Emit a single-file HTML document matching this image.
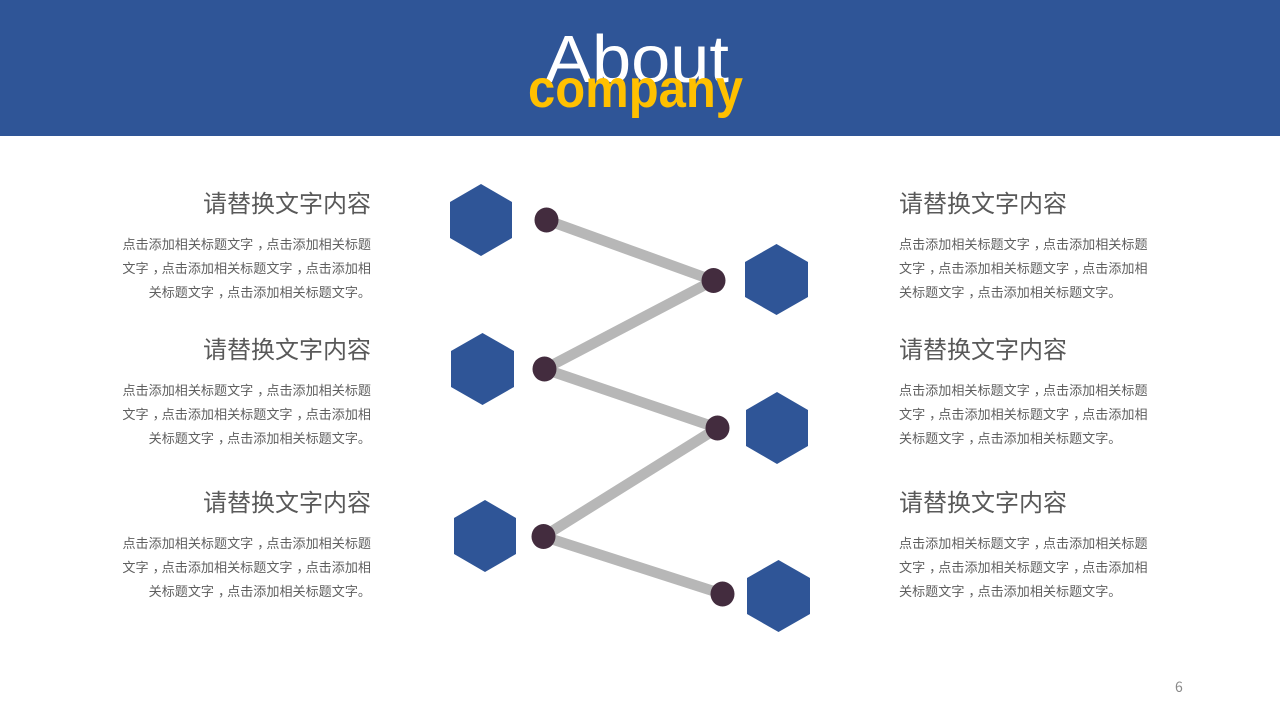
<!DOCTYPE html>
<html lang="zh">
<head>
<meta charset="utf-8">
<title>About company</title>
<style>
html,body{margin:0;padding:0;background:#fff;width:1280px;height:720px;overflow:hidden}
svg{display:block}
.h{font-family:"Liberation Sans","Noto Sans CJK SC",sans-serif;font-size:24px;fill:#595959}
.b{font-family:"Liberation Sans","Noto Sans CJK SC",sans-serif;font-size:13.08px;fill:#5f5f5f}
.e{text-anchor:end}
</style>
</head>
<body>
<svg width="1280" height="720" viewBox="0 0 1280 720" xmlns="http://www.w3.org/2000/svg">
<rect x="0" y="0" width="1280" height="720" fill="#fff"/>
<rect x="0" y="0" width="1280" height="136" fill="#2f5597"/>
<text x="545" y="82" font-family="'Liberation Sans',sans-serif" font-size="67" fill="#fff" textLength="184" lengthAdjust="spacingAndGlyphs">About</text>
<text x="528" y="107" font-family="'Liberation Sans',sans-serif" font-size="54" font-weight="700" fill="#ffc000" textLength="215" lengthAdjust="spacingAndGlyphs">company</text>

<g stroke="#b7b7b7" stroke-width="10.5" fill="none">
<line x1="546.5" y1="220" x2="713.5" y2="280.5"/>
<line x1="713.5" y1="280.5" x2="544.5" y2="369"/>
<line x1="544.5" y1="369" x2="717.5" y2="428"/>
<line x1="717.5" y1="428" x2="543.5" y2="536.5"/>
<line x1="543.5" y1="536.5" x2="722.5" y2="594"/>
</g>
<g fill="#432c3e">
<ellipse cx="546.5" cy="220" rx="12" ry="12.5"/>
<ellipse cx="713.5" cy="280.5" rx="12" ry="12.5"/>
<ellipse cx="544.5" cy="369" rx="12" ry="12.5"/>
<ellipse cx="717.5" cy="428" rx="12" ry="12.5"/>
<ellipse cx="543.5" cy="536.5" rx="12" ry="12.5"/>
<ellipse cx="722.5" cy="594" rx="12" ry="12.5"/>
</g>
<g fill="#2f5597">
<polygon points="481,184 512,202 512,238 481,256 450,238 450,202"/>
<polygon points="482.5,333 514,351 514,387 482.5,405 451,387 451,351"/>
<polygon points="485,500 516,518 516,554 485,572 454,554 454,518"/>
<polygon points="776.5,244 808,262 808,297 776.5,315 745,297 745,262"/>
<polygon points="777,392 808,410 808,446 777,464 746,446 746,410"/>
<polygon points="778.5,560 810,578 810,614 778.5,632 747,614 747,578"/>
</g>

<text class="h e" x="371" y="212">请替换文字内容</text>
<text class="b e" x="371" y="249">点击添加相关标题文字<tspan dx="4">，</tspan><tspan dx="-4">点</tspan>击添加相关标题</text>
<text class="b e" x="371" y="273">文字<tspan dx="4">，</tspan><tspan dx="-4">点</tspan>击添加相关标题文字<tspan dx="4">，</tspan><tspan dx="-4">点</tspan>击添加相</text>
<text class="b e" x="371" y="297">关标题文字<tspan dx="4">，</tspan><tspan dx="-4">点</tspan>击添加相关标题文字。</text>

<text class="h e" x="371" y="358">请替换文字内容</text>
<text class="b e" x="371" y="395">点击添加相关标题文字<tspan dx="4">，</tspan><tspan dx="-4">点</tspan>击添加相关标题</text>
<text class="b e" x="371" y="419">文字<tspan dx="4">，</tspan><tspan dx="-4">点</tspan>击添加相关标题文字<tspan dx="4">，</tspan><tspan dx="-4">点</tspan>击添加相</text>
<text class="b e" x="371" y="443">关标题文字<tspan dx="4">，</tspan><tspan dx="-4">点</tspan>击添加相关标题文字。</text>

<text class="h e" x="371" y="511">请替换文字内容</text>
<text class="b e" x="371" y="548">点击添加相关标题文字<tspan dx="4">，</tspan><tspan dx="-4">点</tspan>击添加相关标题</text>
<text class="b e" x="371" y="572">文字<tspan dx="4">，</tspan><tspan dx="-4">点</tspan>击添加相关标题文字<tspan dx="4">，</tspan><tspan dx="-4">点</tspan>击添加相</text>
<text class="b e" x="371" y="596">关标题文字<tspan dx="4">，</tspan><tspan dx="-4">点</tspan>击添加相关标题文字。</text>

<text class="h" x="899" y="212">请替换文字内容</text>
<text class="b" x="899" y="249">点击添加相关标题文字<tspan dx="4">，</tspan><tspan dx="-4">点</tspan>击添加相关标题</text>
<text class="b" x="899" y="273">文字<tspan dx="4">，</tspan><tspan dx="-4">点</tspan>击添加相关标题文字<tspan dx="4">，</tspan><tspan dx="-4">点</tspan>击添加相</text>
<text class="b" x="899" y="297">关标题文字<tspan dx="4">，</tspan><tspan dx="-4">点</tspan>击添加相关标题文字。</text>

<text class="h" x="899" y="358">请替换文字内容</text>
<text class="b" x="899" y="395">点击添加相关标题文字<tspan dx="4">，</tspan><tspan dx="-4">点</tspan>击添加相关标题</text>
<text class="b" x="899" y="419">文字<tspan dx="4">，</tspan><tspan dx="-4">点</tspan>击添加相关标题文字<tspan dx="4">，</tspan><tspan dx="-4">点</tspan>击添加相</text>
<text class="b" x="899" y="443">关标题文字<tspan dx="4">，</tspan><tspan dx="-4">点</tspan>击添加相关标题文字。</text>

<text class="h" x="899" y="511">请替换文字内容</text>
<text class="b" x="899" y="548">点击添加相关标题文字<tspan dx="4">，</tspan><tspan dx="-4">点</tspan>击添加相关标题</text>
<text class="b" x="899" y="572">文字<tspan dx="4">，</tspan><tspan dx="-4">点</tspan>击添加相关标题文字<tspan dx="4">，</tspan><tspan dx="-4">点</tspan>击添加相</text>
<text class="b" x="899" y="596">关标题文字<tspan dx="4">，</tspan><tspan dx="-4">点</tspan>击添加相关标题文字。</text>

<text x="1175" y="692" font-family="'Noto Sans CJK SC',sans-serif" font-size="14" fill="#898989">6</text>
</svg>
</body>
</html>
